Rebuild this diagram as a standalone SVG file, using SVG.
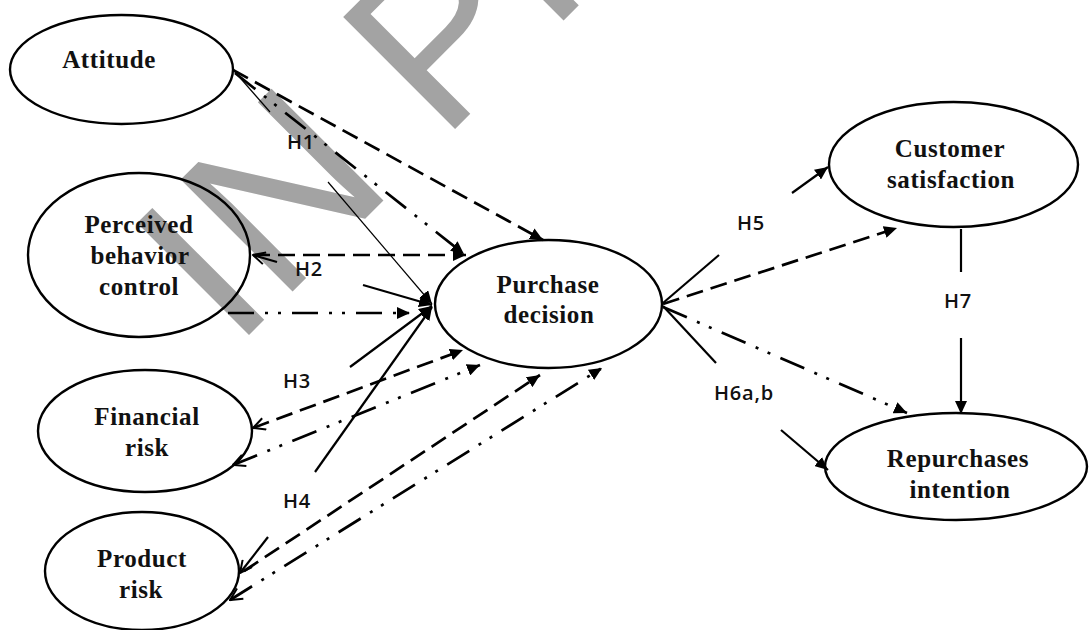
<svg xmlns="http://www.w3.org/2000/svg" width="1089" height="630" viewBox="0 0 1089 630">
  <defs>
    <style>
      .node { fill: none; stroke: #000; stroke-width: 2.4; }
      .name { font-family: "Liberation Serif", "Times New Roman", serif; font-weight: bold; font-size: 25px; letter-spacing: 0.6px; fill: #111; text-anchor: middle; }
      .hyp { font-family: "Open Sans", "Liberation Sans", sans-serif; font-weight: 600; font-size: 20px; letter-spacing: 0.8px; fill: #111; }
      .solid { fill: none; stroke: #000; stroke-width: 2.2; }
      .thin { fill: none; stroke: #000; stroke-width: 1.2; }
      .dash { fill: none; stroke: #000; stroke-width: 2.7; stroke-dasharray: 17 8; }
      .dashdot { fill: none; stroke: #000; stroke-width: 2.7; stroke-dasharray: 26 11 3 10 3 11; }
      .mark { font-family: "Liberation Sans", Arial, sans-serif; font-size: 230px; fill: #a3a3a3; }
    </style>
    <marker id="head" markerUnits="userSpaceOnUse" markerWidth="14" markerHeight="12" refX="13" refY="6" orient="auto">
      <path d="M0,0 L13,6 L0,12 Z" fill="#000"/>
    </marker>
    <marker id="tail" markerUnits="userSpaceOnUse" markerWidth="14" markerHeight="14" refX="13" refY="7" orient="auto-start-reverse">
      <path d="M1,1 L13,7 L1,13" fill="none" stroke="#000" stroke-width="2"/>
    </marker>
  </defs>

  <rect width="1089" height="630" fill="#fff"/>

  <!-- background stamp -->
  <text class="mark" transform="translate(234 350) rotate(-45)">IN PRESS</text>

  <!-- connectors -->
  <g id="connectors">
    <!-- Attitude -> Purchase decision -->
    <line class="dash" x1="233" y1="70" x2="543" y2="240" marker-end="url(#head)"/>
    <line class="dashdot" x1="235" y1="73" x2="464" y2="254" marker-end="url(#head)"/>
    <line class="thin" x1="235" y1="72" x2="270" y2="112"/>
    <line class="thin" x1="328" y1="182" x2="432" y2="304" marker-end="url(#head)"/>

    <!-- Perceived behavior control -> Purchase decision -->
    <line class="dash" x1="253" y1="255" x2="466" y2="255" marker-end="url(#head)"/>
    <line class="dashdot" x1="228" y1="313" x2="410" y2="313" marker-end="url(#head)"/>
    <line class="solid" x1="277" y1="262" x2="253" y2="255" marker-end="url(#tail)"/>
    <line class="solid" x1="363" y1="285" x2="432" y2="305" marker-end="url(#head)"/>

    <!-- Financial risk -> Purchase decision -->
    <line class="dash" x1="253" y1="428" x2="463" y2="350" marker-start="url(#tail)" marker-end="url(#head)"/>
    <line class="dashdot" x1="233" y1="465" x2="480" y2="365" marker-start="url(#tail)" marker-end="url(#head)"/>
    <line class="solid" x1="350" y1="367" x2="432" y2="306" marker-end="url(#head)"/>

    <!-- Product risk -> Purchase decision -->
    <line class="solid" x1="268" y1="537" x2="240" y2="573" marker-end="url(#tail)"/>
    <line class="solid" x1="315" y1="472" x2="432" y2="307" marker-end="url(#head)"/>
    <line class="dash" x1="244" y1="571" x2="540" y2="375" marker-end="url(#head)"/>
    <line class="dashdot" x1="230" y1="600" x2="602" y2="368" marker-start="url(#tail)" marker-end="url(#head)"/>

    <!-- Purchase decision -> Customer satisfaction -->
    <line class="solid" x1="719" y1="255" x2="663" y2="303"/>
    <line class="solid" x1="792" y1="193" x2="828" y2="167" marker-end="url(#head)"/>
    <line class="dash" x1="663" y1="304" x2="897" y2="228" marker-end="url(#head)"/>

    <!-- Purchase decision -> Repurchases intention -->
    <line class="solid" x1="716" y1="363" x2="663" y2="306"/>
    <line class="solid" x1="781" y1="430" x2="828" y2="470" marker-end="url(#head)"/>
    <line class="dashdot" x1="663" y1="307" x2="907" y2="413" marker-end="url(#head)"/>

    <!-- Customer satisfaction -> Repurchases intention -->
    <line class="solid" x1="961" y1="229" x2="961" y2="272"/>
    <line class="solid" x1="961" y1="338" x2="961" y2="414" marker-end="url(#head)"/>
  </g>

  <!-- hypothesis labels -->
  <g id="labels">
    <text class="hyp" x="287" y="149">H1</text>
    <text class="hyp" x="295" y="276">H2</text>
    <text class="hyp" x="283" y="388">H3</text>
    <text class="hyp" x="283" y="508">H4</text>
    <text class="hyp" x="737" y="230">H5</text>
    <text class="hyp" x="714" y="400">H6a,b</text>
    <text class="hyp" x="944" y="308">H7</text>
  </g>

  <!-- constructs -->
  <g id="attitude">
    <ellipse class="node" cx="121.5" cy="69.5" rx="111.5" ry="54.5"/>
    <text class="name" x="109" y="68">Attitude</text>
  </g>
  <g id="perceived-behavior-control">
    <ellipse class="node" cx="139" cy="255" rx="111" ry="82"/>
    <text class="name" x="139" y="233">Perceived</text>
    <text class="name" x="140" y="264">behavior</text>
    <text class="name" x="139" y="295">control</text>
  </g>
  <g id="financial-risk">
    <ellipse class="node" cx="145" cy="431" rx="107" ry="61"/>
    <text class="name" x="147" y="425">Financial</text>
    <text class="name" x="147" y="456">risk</text>
  </g>
  <g id="product-risk">
    <ellipse class="node" cx="142" cy="571" rx="97" ry="59"/>
    <text class="name" x="142" y="567">Product</text>
    <text class="name" x="141" y="598">risk</text>
  </g>
  <g id="purchase-decision">
    <ellipse class="node" cx="548.5" cy="304" rx="113.5" ry="64"/>
    <text class="name" x="548" y="293">Purchase</text>
    <text class="name" x="549" y="323">decision</text>
  </g>
  <g id="customer-satisfaction">
    <ellipse class="node" cx="953.5" cy="164.5" rx="124.5" ry="62.5"/>
    <text class="name" x="950" y="157">Customer</text>
    <text class="name" x="951" y="188">satisfaction</text>
  </g>
  <g id="repurchases-intention">
    <ellipse class="node" cx="956" cy="466.5" rx="131" ry="53.5"/>
    <text class="name" x="958" y="467">Repurchases</text>
    <text class="name" x="960" y="498">intention</text>
  </g>
</svg>
